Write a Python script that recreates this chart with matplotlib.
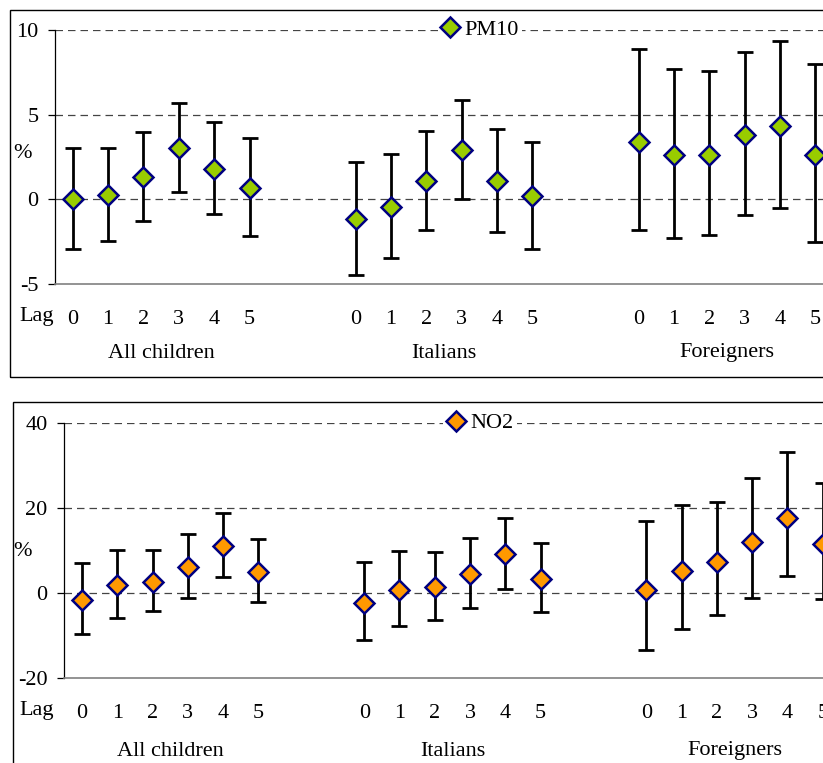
import numpy as np
import matplotlib.pyplot as plt
from matplotlib.patches import Rectangle

plt.rcParams['font.family'] = ['Liberation Serif', 'DejaVu Serif']

groups = ['All children', 'Italians', 'Foreigners']
lags = [0, 1, 2, 3, 4, 5]

# PM10: estimate, lower, upper per group (lag 0..5)
pm10_est = [[0.0, 0.24, 1.32, 3.03, 1.81, 0.69],
            [-1.18, -0.47, 1.06, 2.91, 1.06, 0.18],
            [3.39, 2.6, 2.6, 3.78, 4.33, 2.6]]
pm10_lo = [[-2.93, -2.48, -1.28, 0.43, -0.89, -2.15],
           [-4.45, -3.46, -1.83, 0.0, -1.93, -2.95],
           [-1.81, -2.28, -2.13, -0.94, -0.49, -2.54]]
pm10_hi = [[3.03, 3.03, 4.0, 5.67, 4.55, 3.64],
           [2.19, 2.66, 4.02, 5.87, 4.15, 3.41],
           [8.86, 7.68, 7.58, 8.68, 9.37, 8.01]]

# NO2
no2_est = [[-1.73, 1.8, 2.67, 6.12, 11.06, 5.02],
           [-2.27, 0.7, 1.33, 4.55, 9.1, 3.37],
           [0.63, 5.1, 7.37, 12.0, 17.7, 11.45]]
no2_lo = [[-9.73, -5.96, -4.31, -1.1, 3.69, -2.04],
          [-11.06, -7.76, -6.35, -3.53, 0.94, -4.47],
          [-13.4, -8.55, -5.1, -1.25, 3.92, -1.33]]
no2_hi = [[6.98, 10.1, 10.1, 13.9, 18.8, 12.6],
          [7.2, 9.96, 9.57, 13.0, 17.7, 11.7],
          [16.86, 20.7, 21.4, 27.0, 33.2, 25.8]]

W, H = 823, 763
FS = 16
fig = plt.figure(figsize=(W / 100, H / 100), dpi=100)


def px(x, y):
    return x / W, 1 - y / H


def panel(rect, border, est, lo, hi, color, name, yticks, pct_y, lag_y, grp_y, leg_xy):
    # border around the whole panel (runs off the right edge like the source)
    bottom = 1 - border[3] / H
    top = 1 - border[1] / H
    fig.patches.append(Rectangle((border[0] / W, bottom), 1.2, top - bottom,
                                 transform=fig.transFigure, fill=False,
                                 edgecolor='black', linewidth=1.0))
    ax = fig.add_axes(rect)
    xpos = []
    for g in range(3):
        xpos += [g * 8 + l for l in lags]
    xpos = np.array(xpos)
    e = np.concatenate(est)
    l = np.concatenate(lo)
    h = np.concatenate(hi)
    for yt in yticks[1:]:
        ax.axhline(yt, color='#444444', linestyle=(0, (6, 4)), linewidth=0.9, zorder=1)
    ax.errorbar(xpos, e, yerr=[e - l, h - e], fmt='none', ecolor='black',
                elinewidth=2.0, capsize=5.5, capthick=2.0, zorder=2)
    ax.plot(xpos, e, linestyle='none', marker='D', markersize=10,
            markerfacecolor=color, markeredgecolor='#000080', markeredgewidth=1.8,
            label=name, zorder=3)
    ax.set_xlim(-0.5, 21.5)
    ax.set_ylim(yticks[0], yticks[-1])
    ax.set_yticks(yticks)
    ax.set_yticklabels([str(t) for t in yticks])
    ax.set_xticks(xpos)
    ax.set_xticklabels([str(v) for v in lags * 3])
    ax.tick_params(axis='x', length=0, pad=19, labelsize=FS)
    ax.tick_params(axis='y', direction='out', length=5, width=0.9, pad=7, labelsize=FS)
    ax.spines['top'].set_visible(False)
    ax.spines['right'].set_visible(False)
    ax.spines['bottom'].set_color('#808080')
    ax.spines['bottom'].set_linewidth(1.2)
    ax.spines['left'].set_linewidth(0.9)
    fig.text(*px(22, pct_y), '%', fontsize=FS, ha='center', va='center')
    fig.text(*px(37, lag_y), 'Lag', fontsize=FS, ha='center', va='center')
    ax_bottom_px = H * (1 - rect[1])
    for g, name_g in enumerate(groups):
        ax.text(g * 8 + 2.5, -(grp_y - ax_bottom_px) / (rect[3] * H), name_g,
                fontsize=FS, ha='center', va='center',
                transform=ax.get_xaxis_transform())
    leg = ax.legend(loc='center', bbox_to_anchor=px(*leg_xy),
                    bbox_transform=fig.transFigure, frameon=True, fontsize=FS,
                    handlelength=0.8, handletextpad=0.25, borderpad=0.15,
                    borderaxespad=0)
    leg.get_frame().set_edgecolor('none')
    leg.get_frame().set_facecolor('white')
    leg.get_frame().set_alpha(1)
    return ax


panel([55 / W, 1 - 284 / H, 778 / W, 254 / H], (10, 10, 0, 377),
      pm10_est, pm10_lo, pm10_hi, '#99CC00', 'PM10', [-5, 0, 5, 10],
      153, 316, 353, (480, 30))
panel([64.4 / W, 1 - 678 / H, 776 / W, 255 / H], (13, 402, 0, 800),
      no2_est, no2_lo, no2_hi, '#FF9900', 'NO2', [-20, 0, 20, 40],
      552, 711, 751, (480, 423))

fig.savefig('out.png', dpi=100)
